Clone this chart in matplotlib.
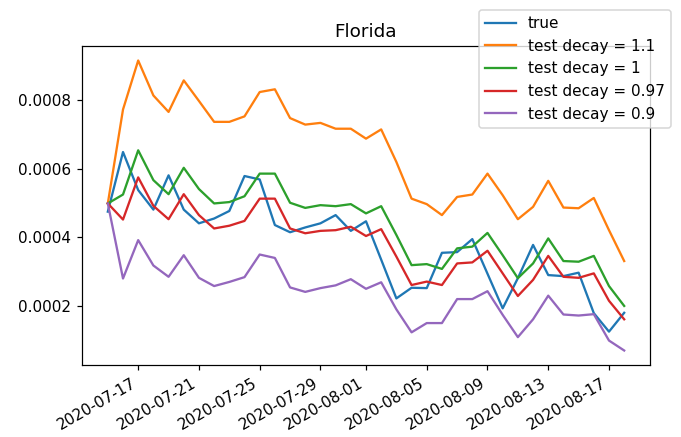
import numpy as np
import pandas as pd
import matplotlib
matplotlib.use("Agg")
import matplotlib.pyplot as plt

# --- daily values (Florida) ---
dates = pd.date_range("2020-07-15", "2020-08-18", freq="D")

true_vals = [0.000475, 0.000649, 0.000538, 0.000481, 0.000581, 0.000481, 0.000441,
             0.000455, 0.000477, 0.000579, 0.000569, 0.000436, 0.000415, 0.000429,
             0.000441, 0.000465, 0.000419, 0.000447, 0.000335, 0.000222, 0.000253,
             0.000252, 0.000355, 0.000357, 0.000395, 0.000294, 0.000193, 0.000281,
             0.000378, 0.000290, 0.000287, 0.000297, 0.000179, 0.000125, 0.000180]

decay_1_1 = [0.000499, 0.000773, 0.000916, 0.000814, 0.000766, 0.000858, 0.000798,
             0.000737, 0.000737, 0.000753, 0.000824, 0.000832, 0.000748, 0.000729,
             0.000734, 0.000717, 0.000717, 0.000688, 0.000715, 0.000620, 0.000513,
             0.000497, 0.000465, 0.000518, 0.000525, 0.000586, 0.000523, 0.000453,
             0.000489, 0.000565, 0.000487, 0.000485, 0.000515, 0.000421, 0.000331]

decay_1 = [0.000499, 0.000525, 0.000654, 0.000567, 0.000526, 0.000603, 0.000541,
           0.000499, 0.000503, 0.000520, 0.000586, 0.000586, 0.000501, 0.000486,
           0.000494, 0.000491, 0.000497, 0.000470, 0.000491, 0.000407, 0.000319,
           0.000322, 0.000308, 0.000368, 0.000373, 0.000413, 0.000348, 0.000281,
           0.000324, 0.000397, 0.000331, 0.000329, 0.000346, 0.000258, 0.000200]

decay_0_97 = [0.000499, 0.000452, 0.000575, 0.000492, 0.000453, 0.000526, 0.000465,
              0.000426, 0.000434, 0.000448, 0.000513, 0.000513, 0.000426, 0.000412,
              0.000419, 0.000421, 0.000431, 0.000404, 0.000424, 0.000344, 0.000261,
              0.000271, 0.000261, 0.000324, 0.000327, 0.000361, 0.000295, 0.000229,
              0.000276, 0.000346, 0.000285, 0.000282, 0.000295, 0.000215, 0.000161]

decay_0_9 = [0.000499, 0.000280, 0.000392, 0.000318, 0.000285, 0.000348, 0.000282,
             0.000258, 0.000270, 0.000284, 0.000350, 0.000340, 0.000254, 0.000241,
             0.000252, 0.000260, 0.000278, 0.000250, 0.000269, 0.000190, 0.000123,
             0.000150, 0.000150, 0.000220, 0.000220, 0.000243, 0.000174, 0.000109,
             0.000161, 0.000230, 0.000175, 0.000172, 0.000176, 0.000099, 0.000070]

series = [
    ("true", true_vals),
    ("test decay = 1.1", decay_1_1),
    ("test decay = 1", decay_1),
    ("test decay = 0.97", decay_0_97),
    ("test decay = 0.9", decay_0_9),
]

fig, ax = plt.subplots(figsize=(681 / 110, 437 / 110), dpi=110)
for label, vals in series:
    ax.plot(dates, vals, label=label)

ax.set_title("Florida")
fig.autofmt_xdate()
fig.subplots_adjust(left=82 / 681, right=650 / 681, bottom=1 - 365 / 437, top=1 - 46 / 437)
ax.legend(loc="upper right", bbox_to_anchor=(1.037, 1.113), borderaxespad=0)

fig.savefig("out.png", dpi=110)
